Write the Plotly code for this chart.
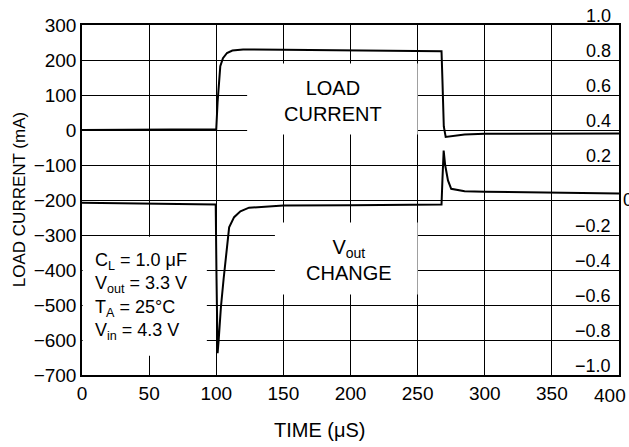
import plotly.graph_objects as go

# ---- data ----
# Load current (mA, left axis)
t_load = [0, 50, 99.5, 100, 101, 102, 103, 105, 108, 112, 120, 150, 200, 250, 267.8,
          268.5, 269.5, 270.9, 273, 278, 285, 300, 350, 400]
i_load = [0, 0, 0, 2, 80, 150, 182, 205, 220, 227, 230, 229, 228, 226, 225,
          140, 10, -20, -19, -16, -13, -11, -10, -10]

# Vout change (V, right axis)
t_vout = [0, 50, 99.6, 100.2, 101.0, 101.8, 103.5, 105.5, 107.2, 109.6, 113.3, 118,
          124.4, 150, 200, 250, 267.8, 268.5, 269.4, 270.5, 272.6, 275, 285, 300, 350, 400]
v_vout = [-0.016, -0.02, -0.026, -0.45, -0.875, -0.80, -0.61, -0.45, -0.31, -0.156, -0.098, -0.065,
          -0.044, -0.032, -0.03, -0.028, -0.026, 0.12, 0.283, 0.20, 0.112, 0.064, 0.05, 0.047, 0.042, 0.037]

x_ticks = [0, 50, 100, 150, 200, 250, 300, 350, 400]
y_left_ticks = [300, 200, 100, 0, -100, -200, -300, -400, -500, -600, -700]
y_right_vals = [1.0, 0.8, 0.6, 0.4, 0.2, -0.2, -0.4, -0.6, -0.8, -1.0]
y_right_text = ["1.0", "0.8", "0.6", "0.4", "0.2", "\u22120.2", "\u22120.4", "\u22120.6", "\u22120.8", "\u22121.0"]

FONT = "Liberation Sans, Arial, Helvetica, sans-serif"

fig = go.Figure()
fig.add_trace(go.Scatter(x=t_load, y=i_load, mode="lines",
                         line=dict(color="black", width=2), yaxis="y", showlegend=False))
fig.add_trace(go.Scatter(x=t_vout, y=v_vout, mode="lines",
                         line=dict(color="black", width=2), yaxis="y2", showlegend=False))

axis_common = dict(showgrid=True, gridcolor="black", gridwidth=1.3, zeroline=False,
                   showline=True, linecolor="black", linewidth=1.5, mirror=True,
                   ticks="", tickfont=dict(size=19, color="black", family=FONT))

fig.update_layout(
    width=629, height=447,
    margin=dict(l=82, r=8, t=25, b=72),
    paper_bgcolor="white", plot_bgcolor="white",
    font=dict(family=FONT, color="black"),
    xaxis=dict(range=[0, 400], tickvals=x_ticks,
               ticktext=[str(v) for v in x_ticks[:-1]] + [""], **axis_common),
    yaxis=dict(range=[-700, 300], tickvals=y_left_ticks, **axis_common),
    yaxis2=dict(range=[-1, 1], overlaying="y", side="right", showgrid=False,
                showticklabels=False, zeroline=False, showline=False, ticks=""),
)

# white label boxes that break the grid
boxes = [
    (123, 250, -13, 190),      # LOAD CURRENT
    (143.7, 250, -470, -264),  # Vout CHANGE
    (0.5, 93, -645, -305),     # parameter box
]
for x0, x1, y0, y1 in boxes:
    fig.add_shape(type="rect", xref="x", yref="y", x0=x0, x1=x1, y0=y0, y1=y1,
                  fillcolor="white", line=dict(width=0), layer="between")

ann = []
ann.append(dict(text="LOAD<br>CURRENT", x=187, y=84, xref="x", yref="y",
                xanchor="center", yanchor="middle",
                showarrow=False, font=dict(size=20), align="center"))
ann.append(dict(text="V<sub>out</sub><br>CHANGE", x=199, y=-372, xref="x", yref="y",
                xanchor="center", yanchor="middle",
                showarrow=False, font=dict(size=20), align="center"))
ann.append(dict(text="C<sub>L</sub> = 1.0 \u03bcF<br>V<sub>out</sub> = 3.3 V<br>T<sub>A</sub> = 25\u00b0C<br>V<sub>in</sub> = 4.3 V",
                x=8.5, y=-477, xref="x", yref="y", xanchor="left", yanchor="middle",
                showarrow=False, font=dict(size=18), align="left"))
for v, s in zip(y_right_vals, y_right_text):
    ann.append(dict(text=s, x=1, y=v, xref="paper", yref="y2", xanchor="right", yanchor="bottom",
                    xshift=-6, yshift=-3, showarrow=False, font=dict(size=18)))
ann.append(dict(text="0", x=1, y=0, xref="paper", yref="y2", xanchor="left", yanchor="middle",
                xshift=2, showarrow=False, font=dict(size=18)))
# last x tick label, kept inside the page like the reference
ann.append(dict(text=str(x_ticks[-1]), x=1, y=-0.058, xref="paper", yref="paper",
                xanchor="right", yanchor="middle", xshift=9, showarrow=False,
                font=dict(size=19)))
ann.append(dict(text="LOAD CURRENT (mA)", x=-0.117, y=0.5, xref="paper", yref="paper",
                xanchor="center", yanchor="middle",
                textangle=-90, showarrow=False, font=dict(size=17)))
ann.append(dict(text="TIME (\u03bcS)", x=0.4425, y=-0.157, xref="paper", yref="paper",
                xanchor="center", yanchor="middle",
                showarrow=False, font=dict(size=20)))
fig.update_layout(annotations=ann)

fig.write_html("out.html")
